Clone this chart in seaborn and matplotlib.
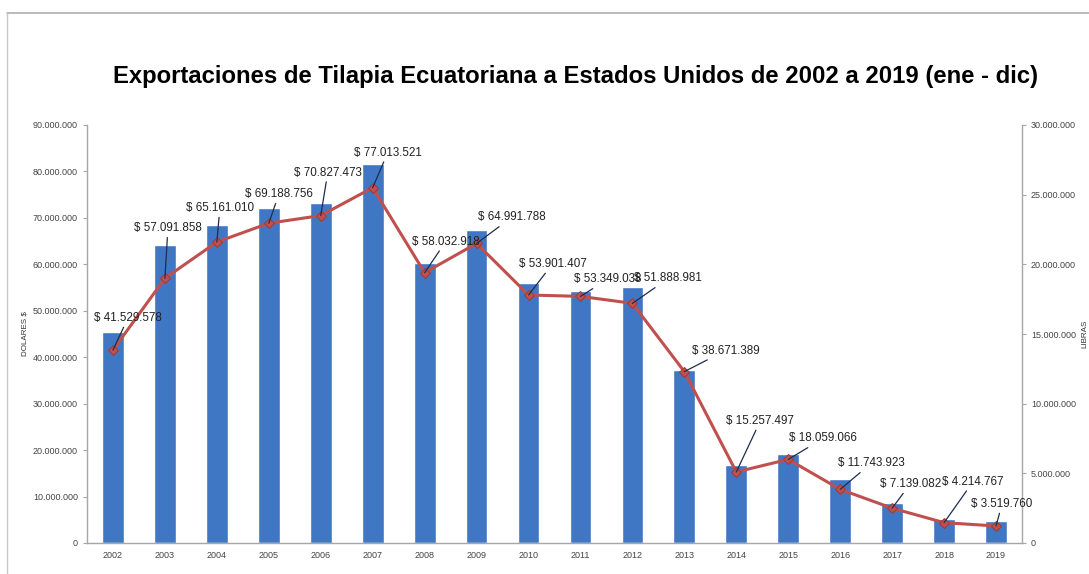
import numpy as np
import pandas as pd
import matplotlib
matplotlib.use("Agg")
import matplotlib.pyplot as plt
from matplotlib.lines import Line2D
from matplotlib.ticker import FuncFormatter
import seaborn as sns

# ---------------- data ----------------
years = ["2002", "2003", "2004", "2005", "2006", "2007", "2008", "2009", "2010",
         "2011", "2012", "2013", "2014", "2015", "2016", "2017", "2018", "2019"]
dolares = [45.5e6, 64.2e6, 68.5e6, 72.1e6, 73.3e6, 81.7e6, 60.3e6, 67.3e6, 56.0e6,
           54.2e6, 55.2e6, 37.3e6, 16.8e6, 19.1e6, 13.8e6, 8.7e6, 5.2e6, 4.8e6]
libras = [13.85e6, 19.0e6, 21.6e6, 22.95e6, 23.5e6, 25.5e6, 19.4e6, 21.5e6, 17.8e6,
          17.7e6, 17.2e6, 12.3e6, 5.1e6, 6.0e6, 3.85e6, 2.5e6, 1.46e6, 1.22e6]
etiquetas = ["$ 41.529.578", "$ 57.091.858", "$ 65.161.010", "$ 69.188.756",
             "$ 70.827.473", "$ 77.013.521", "$ 58.032.918", "$ 64.991.788",
             "$ 53.901.407", "$ 53.349.038", "$ 51.888.981", "$ 38.671.389",
             "$ 15.257.497", "$ 18.059.066", "$ 11.743.923", "$ 7.139.082",
             "$ 4.214.767", "$ 3.519.760"]
titulo = "Exportaciones de Tilapia Ecuatoriana a Estados Unidos de 2002 a 2019 (ene - dic)"
ylabel_izq = "DOLARES $"
ylabel_der = "LIBRAS"

# label offsets (pixels) relative to line points -- style only
offsets = [(15, 32), (3, 50), (3, 34), (10, 29), (7, 43), (15, 35), (21, 31),
           (35, 26), (24, 31), (27, 17), (36, 25), (41, 21), (24, 51), (35, 21),
           (31, 26), (18, 24), (29, 41), (6, 22)]

# ---------------- style ----------------
sns.set_theme(style="white")
plt.rcParams["font.family"] = ["Liberation Sans", "DejaVu Sans"]

W, H = 1089, 574
fig = plt.figure(figsize=(W / 100, H / 100), dpi=100)
ax = fig.add_axes([87 / W, 1 - 543 / H, (1022 - 87) / W, (543 - 125) / H])

df = pd.DataFrame({"anio": years, "dolares": dolares, "libras": libras})

bar_color = "#4077c4"
line_color = "#c0504d"
sns.barplot(data=df, x="anio", y="dolares", color=bar_color, width=0.42,
            saturation=1, ax=ax)

ax.set_xlim(-0.5, len(years) - 0.5)
ax.set_ylim(0, 90e6)
ax.set_yticks(np.arange(0, 90e6 + 1, 10e6))

def fmt(v, pos):
    if v == 0:
        return "0"
    return f"{int(round(v)):,}".replace(",", ".")

ax.yaxis.set_major_formatter(FuncFormatter(fmt))
ax.set_xlabel("")
ax.set_ylabel(ylabel_izq, fontsize=5.8, color="#333333", labelpad=3)

ax2 = ax.twinx()
xpos = np.arange(len(years))
sns.lineplot(x=xpos, y=df["libras"].values, ax=ax2, color=line_color,
             linewidth=2.2, marker="D", markersize=5.5,
             markerfacecolor=line_color, markeredgecolor="#a03a38")
ax2.set_ylim(0, 30e6)
ax2.set_yticks(np.arange(0, 30e6 + 1, 5e6))
ax2.yaxis.set_major_formatter(FuncFormatter(fmt))
ax2.set_ylabel(ylabel_der, fontsize=5.8, color="#333333", labelpad=4)
ax2.set_xlim(-0.5, len(years) - 0.5)

spine_c = "#a6a6a6"
for a in (ax, ax2):
    a.spines["top"].set_visible(False)
    for s in ("left", "right", "bottom"):
        a.spines[s].set_color(spine_c)
        a.spines[s].set_linewidth(1.0)
    a.tick_params(axis="both", labelsize=6.5, colors="#444444", length=3,
                  width=0.8, direction="out")
    a.tick_params(axis="both", color=spine_c)
ax.spines["right"].set_visible(False)
ax2.spines["left"].set_visible(False)
ax2.spines["bottom"].set_visible(False)
ax.tick_params(axis="x", length=0, pad=6)
ax.grid(False)
ax2.grid(False)

for i, (lab, off) in enumerate(zip(etiquetas, offsets)):
    ax2.annotate(lab, xy=(i, libras[i]), xytext=off, textcoords="offset pixels",
                 ha="center", va="center", fontsize=8.4, color="#222222",
                 arrowprops=dict(arrowstyle="-", color="#1d2d4d", lw=0.9,
                                 shrinkA=0, shrinkB=0),
                 zorder=5)

fig.text(576 / W, 1 - 76 / H, titulo, ha="center", va="center",
         fontsize=17.2, fontweight="bold", color="#000000")

# outer frame lines (top and left)
fig.add_artist(Line2D([7 / W, 1.0], [1 - 13 / H, 1 - 13 / H],
                      transform=fig.transFigure, color="#b5b5b5", lw=1.3))
fig.add_artist(Line2D([7 / W, 7 / W], [0, 1 - 13 / H],
                      transform=fig.transFigure, color="#c8c8c8", lw=1.0))

fig.savefig("out.png", dpi=100)
